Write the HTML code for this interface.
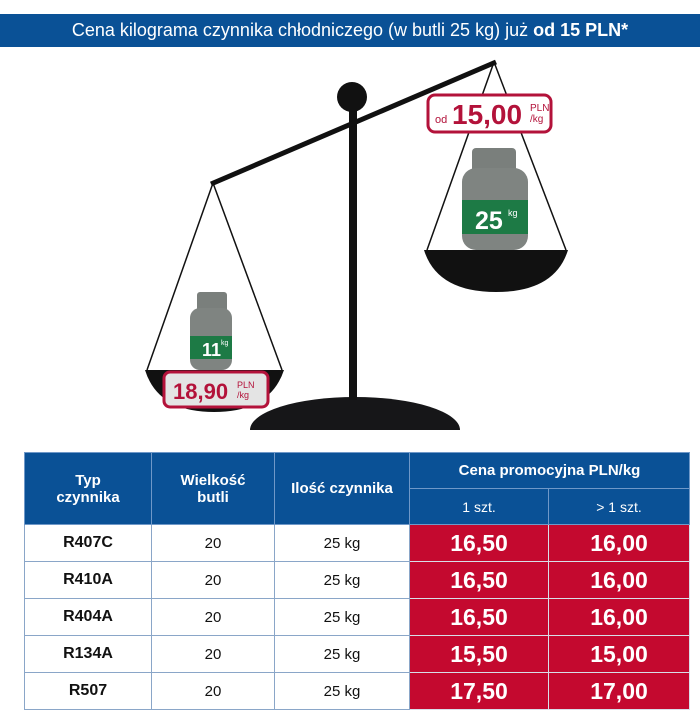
<!DOCTYPE html>
<html><head><meta charset="utf-8"><style>
body{margin:0;width:700px;height:716px;background:#fff;font-family:"Liberation Sans",sans-serif;overflow:hidden;position:relative}
.bar{position:absolute;left:0;top:14px;width:700px;height:33px;background:#0a5196;color:#fff;font-size:18px;line-height:33px;text-align:center}
table{position:absolute;left:24px;top:452px;border-collapse:collapse;width:666px}
td{text-align:center;padding:0;border:1px solid #8aa6c8;font-size:15px;color:#111}
th{background:#0a5196;color:#fff;font-weight:bold;font-size:15px;border:1px solid #6f98c8;padding:0}
th.s{font-weight:normal;font-size:14px}
td.r{background:#c4092f;color:#fff;font-weight:bold;font-size:23px;border-color:#d8dfe8}
td.b{font-weight:bold;font-size:16px}
tr.d td{height:36px}
</style></head><body>
<div class="bar">Cena kilograma czynnika chłodniczego (w butli 25 kg) już <b>od 15 PLN*</b></div>
<svg width="700" height="450" style="position:absolute;left:0;top:0">
<path d="M250 430 A105 33 0 0 1 460 430 Z" fill="#161618"/>
<rect x="349" y="100" width="8" height="300" fill="#111"/>
<circle cx="352" cy="97" r="15" fill="#111"/>
<line x1="211" y1="184" x2="496" y2="62" stroke="#111" stroke-width="5"/>
<line x1="213" y1="183" x2="147" y2="370" stroke="#111" stroke-width="1.5"/>
<line x1="213" y1="183" x2="282" y2="370" stroke="#111" stroke-width="1.5"/>
<line x1="494" y1="62" x2="427" y2="250" stroke="#111" stroke-width="1.5"/>
<line x1="494" y1="62" x2="566" y2="250" stroke="#111" stroke-width="1.5"/>
<path d="M145 370 H284 Q270 412 214 412 Q158 412 145 370Z" fill="#111"/>
<path d="M424 250 H568 Q555 292 496 292 Q437 292 424 250Z" fill="#111"/>
<rect x="197" y="292" width="30" height="20" rx="3" fill="#7a7f7c"/>
<rect x="190" y="308" width="42" height="62" rx="10" fill="#7f8481"/>
<rect x="190" y="336" width="42" height="23" fill="#1d7a45"/>
<text x="202" y="356" font-size="18" font-weight="bold" fill="#fff">11</text><text x="221" y="345" font-size="7" fill="#fff">kg</text>
<rect x="472" y="148" width="44" height="25" rx="4" fill="#7a7f7c"/>
<rect x="462" y="168" width="66" height="82" rx="14" fill="#7f8481"/>
<rect x="462" y="200" width="66" height="34" fill="#1d7a45"/>
<text x="475" y="229" font-size="25" font-weight="bold" fill="#fff">25</text><text x="508" y="216" font-size="9" fill="#fff">kg</text>
<rect x="428" y="95" width="123" height="37" rx="7" fill="#fff" stroke="#b3123a" stroke-width="3"/>
<text x="435" y="123" font-size="11" fill="#b3123a">od</text>
<text x="452" y="124" font-size="28" font-weight="bold" fill="#b3123a">15,00</text>
<text x="530" y="111" font-size="10" fill="#b3123a">PLN</text><text x="530" y="122" font-size="10" fill="#b3123a">/kg</text>
<rect x="164" y="372" width="104" height="35" rx="6" fill="#e4e4e4" stroke="#b3123a" stroke-width="3"/>
<text x="173" y="399" font-size="22" font-weight="bold" fill="#b3123a">18,90</text>
<text x="237" y="388" font-size="9" fill="#b3123a">PLN</text><text x="237" y="398" font-size="9" fill="#b3123a">/kg</text>
</svg>
<table>
<tr><th rowspan="2" style="width:126px;height:70px">Typ<br>czynnika</th><th rowspan="2" style="width:122px">Wielkość<br>butli</th><th rowspan="2" style="width:134px">Ilość czynnika</th><th colspan="2" style="height:35px">Cena promocyjna PLN/kg</th></tr>
<tr><th class="s" style="height:35px;width:138px">1 szt.</th><th class="s">&gt; 1 szt.</th></tr>
<tr class="d"><td class="b">R407C</td><td>20</td><td>25 kg</td><td class="r">16,50</td><td class="r">16,00</td></tr>
<tr class="d"><td class="b">R410A</td><td>20</td><td>25 kg</td><td class="r">16,50</td><td class="r">16,00</td></tr>
<tr class="d"><td class="b">R404A</td><td>20</td><td>25 kg</td><td class="r">16,50</td><td class="r">16,00</td></tr>
<tr class="d"><td class="b">R134A</td><td>20</td><td>25 kg</td><td class="r">15,50</td><td class="r">15,00</td></tr>
<tr class="d"><td class="b">R507</td><td>20</td><td>25 kg</td><td class="r">17,50</td><td class="r">17,00</td></tr>
</table>
</body></html>
